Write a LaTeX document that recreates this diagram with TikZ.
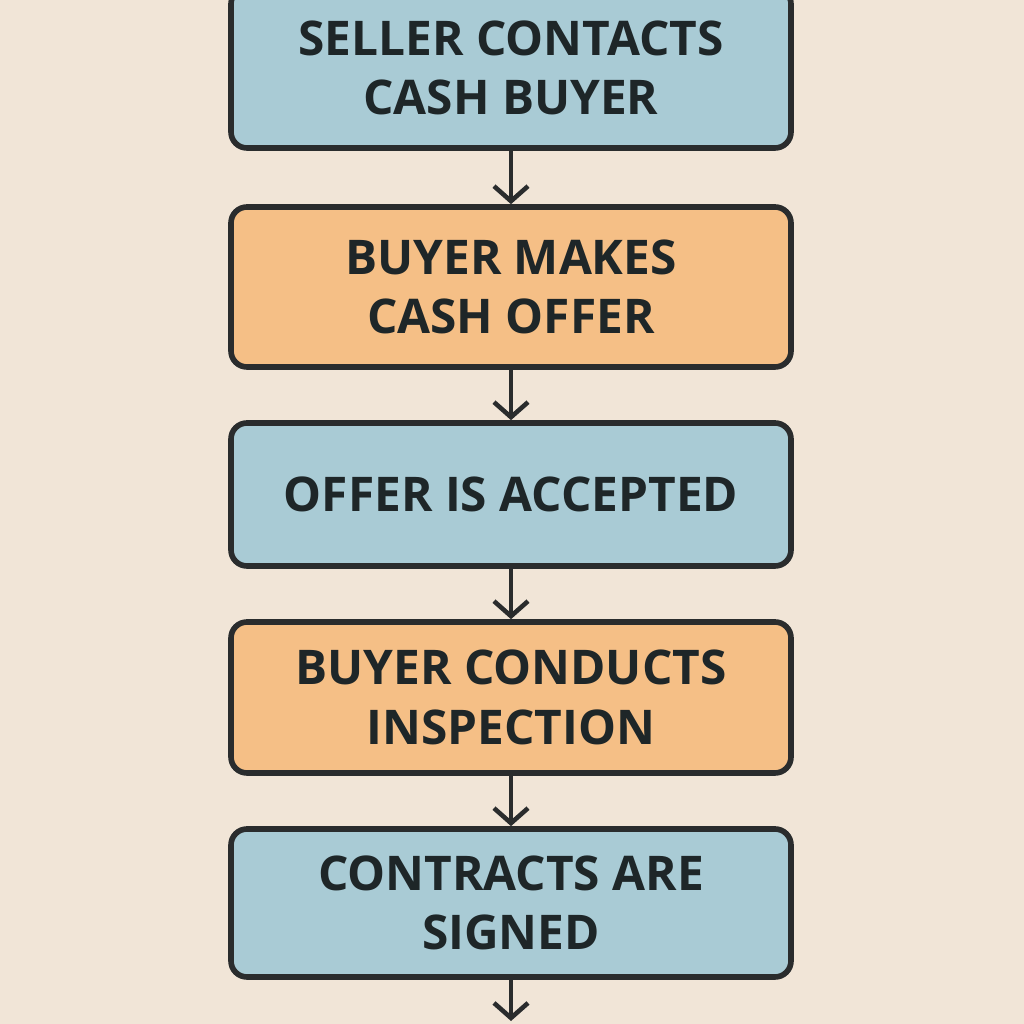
\documentclass[tikz,border=0pt]{standalone}
\usepackage{fontspec}
\setmainfont{Open Sans}
\usetikzlibrary{arrows.meta}
\definecolor{bgc}{HTML}{F1E5D7}
\definecolor{bluec}{HTML}{A9CBD5}
\definecolor{orangec}{HTML}{F5BF86}
\definecolor{inkc}{HTML}{2A2C2D}
\definecolor{textc}{HTML}{1E2628}
\tikzset{
  stepbox/.style={draw=inkc, line width=1.6pt, rounded corners=0.16cm,
    minimum width=5.6cm, align=center, inner sep=0pt,
    font=\fontsize{13.6}{17}\selectfont\bfseries, text=textc},
  bluebox/.style={stepbox, fill=bluec},
  orangebox/.style={stepbox, fill=orangec},
  flow/.style={draw=inkc, line width=1.3pt, line cap=round,
    -{Straight Barb[length=0.15cm,width=0.34cm,line width=1.3pt]}}
}
\begin{document}
\begin{tikzpicture}
\fill[bgc] (0,0) rectangle (10.24,10.24);
\useasboundingbox (0,0) rectangle (10.24,10.24);
\node[bluebox, minimum height=1.6cm] (b1) at (5.11,9.56) {SELLER CONTACTS\\CASH BUYER};
\node[orangebox, minimum height=1.6cm] (b2) at (5.11,7.37) {BUYER MAKES\\CASH OFFER};
\node[bluebox, minimum height=1.43cm] (b3) at (5.11,5.295) {OFFER IS ACCEPTED};
\node[orangebox, minimum height=1.51cm] (b4) at (5.11,3.265) {BUYER CONDUCTS\\INSPECTION};
\node[bluebox, minimum height=1.48cm] (b5) at (5.11,1.21) {CONTRACTS ARE\\SIGNED};
\coordinate (end) at (5.11,0.03);
\draw[flow] (b1.south) -- (b2.north);
\draw[flow] (b2.south) -- (b3.north);
\draw[flow] (b3.south) -- (b4.north);
\draw[flow] (b4.south) -- (b5.north);
\draw[flow] (b5.south) -- (end);
\end{tikzpicture}
\end{document}
